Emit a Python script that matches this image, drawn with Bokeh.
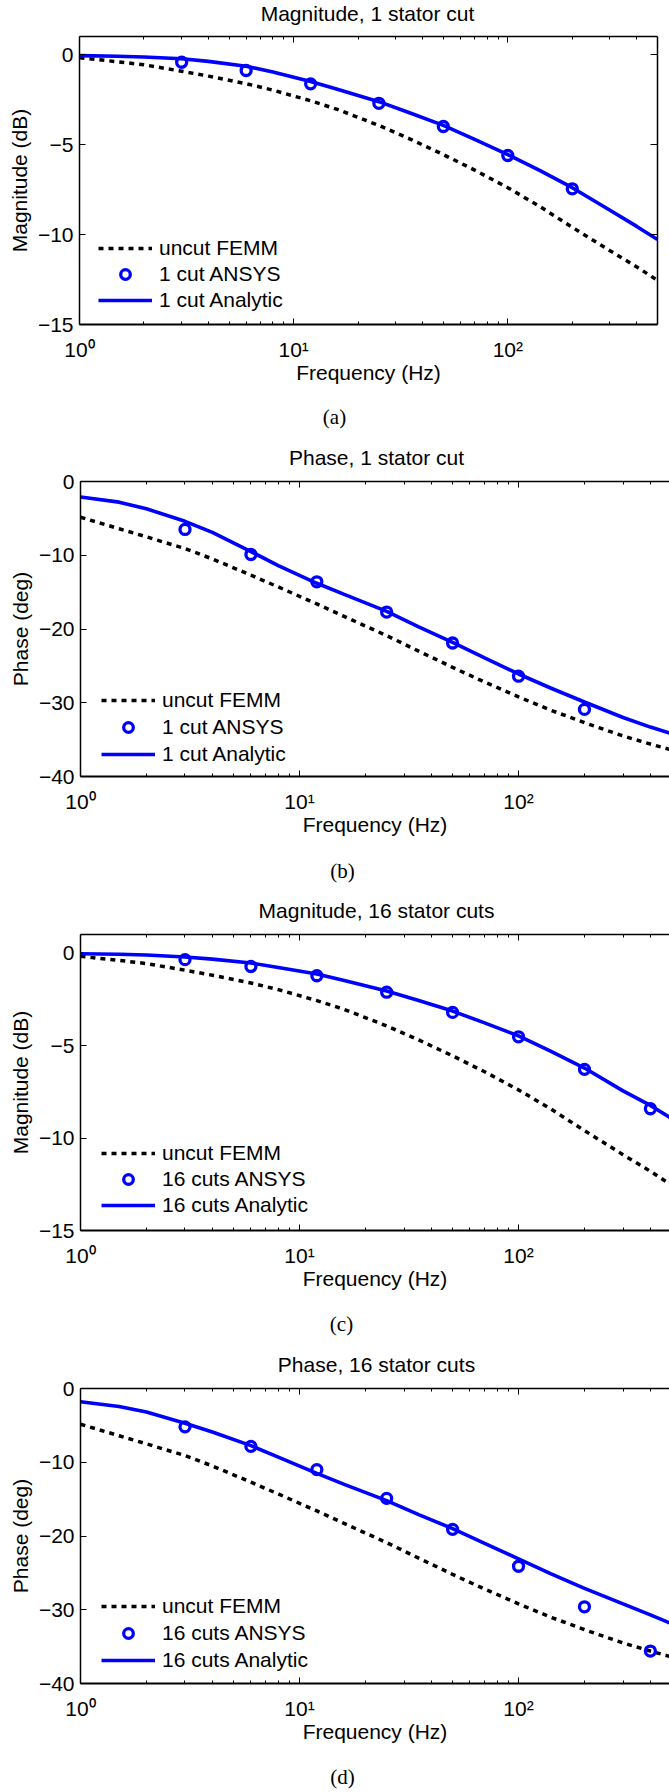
from bokeh.plotting import figure
from bokeh.models import Range1d, FixedTicker, LogAxis, LinearAxis, Legend, LegendItem, Label
from bokeh.layouts import column
from bokeh.embed import file_html
from bokeh.resources import INLINE

# ---------------- data ----------------
freq_line = [1, 1.5, 2, 3, 4, 6, 8, 12, 16, 25, 35, 50, 70, 100, 140, 200, 300, 400, 500]

femm_mag = [-0.18, -0.40, -0.57, -0.93, -1.2, -1.62, -1.98, -2.57, -3.05, -3.94, -4.70,
            -5.56, -6.42, -7.40, -8.42, -9.60, -10.90, -11.80, -12.55]
femm_phase = [-4.85, -6.4, -7.5, -9.1, -10.5, -12.7, -14.3, -16.6, -18.3, -20.9, -23.0,
              -25.2, -27.2, -29.2, -31.0, -32.7, -34.5, -35.6, -36.4]

analytic_mag_1cut = [-0.06, -0.10, -0.14, -0.24, -0.38, -0.65, -0.97, -1.50, -1.93, -2.62, -3.25,
                     -3.94, -4.72, -5.56, -6.42, -7.40, -8.65, -9.55, -10.28]
analytic_phase_1cut = [-2.1, -2.8, -3.7, -5.4, -6.9, -9.5, -11.4, -13.8, -15.3, -17.6, -19.7,
                       -21.8, -23.9, -26.1, -28.0, -29.9, -32.0, -33.3, -34.2]
analytic_mag_16cut = [-0.04, -0.07, -0.11, -0.22, -0.33, -0.54, -0.78, -1.13, -1.48, -2.05, -2.57,
                      -3.14, -3.78, -4.48, -5.30, -6.22, -7.45, -8.24, -8.95]
analytic_phase_16cut = [-1.8, -2.45, -3.2, -4.7, -5.9, -7.75, -9.3, -11.5, -13.0, -15.2, -17.1,
                        -19.0, -21.0, -23.1, -25.1, -27.1, -29.2, -30.7, -31.9]

ansys_freq_1cut = [3, 6, 12, 25, 50, 100, 200]
ansys_mag_1cut = [-0.43, -0.89, -1.63, -2.71, -4.0, -5.61, -7.46]
ansys_phase_1cut = [-6.5, -9.9, -13.6, -17.7, -21.9, -26.4, -30.9]

ansys_freq_16cut = [3, 6, 12, 25, 50, 100, 200, 400]
ansys_mag_16cut = [-0.36, -0.73, -1.23, -2.12, -3.21, -4.53, -6.29, -8.42]
ansys_phase_16cut = [-5.2, -7.85, -11.0, -14.9, -19.1, -24.1, -29.6, -35.6]

x_major_ticks = [1, 10, 100]
x_minor_ticks = [2, 3, 4, 5, 6, 7, 8, 9, 20, 30, 40, 50, 60, 70, 80, 90, 200, 300, 400]
x_tick_labels = {1: "10\u2070", 10: "10\u00b9", 100: "10\u00b2"}
mag_ticks = [-15, -10, -5, 0]
phase_ticks = [-40, -30, -20, -10, 0]

SANS = "Liberation Sans"
SERIF = "Liberation Serif"
FS = "21px"
W = 669


def minus(v):
    return ("\u2212" + str(abs(v))) if v < 0 else str(v)


def style_axis(ax, ticks=None):
    ax.axis_line_color = "black"
    ax.axis_line_width = 1.5
    ax.major_tick_line_color = "black"
    ax.minor_tick_line_color = "black"
    ax.major_tick_in = 6
    ax.major_tick_out = 0
    ax.minor_tick_in = 3
    ax.minor_tick_out = 0
    ax.major_label_text_font = SANS
    ax.major_label_text_color = "black"
    ax.axis_label_text_font = SANS
    ax.axis_label_text_font_size = FS
    ax.axis_label_text_font_style = "normal"
    ax.axis_label_text_color = "black"
    if ticks is None:
        ax.major_label_text_font_size = FS
    else:
        # frame-only axis: ticks but no labels
        ax.major_label_text_font_size = "2px"
        ax.major_label_standoff = 0
        ax.major_label_overrides = {v: "" for v in ticks}


def text_strip(H, x, y_center_from_top, text, font):
    """A frameless strip holding one line of text (title or caption)."""
    f = figure(width=W, height=H, x_range=Range1d(0, 1), y_range=Range1d(0, 1),
               output_backend="svg", toolbar_location=None,
               min_border_left=0, min_border_right=0, min_border_top=0, min_border_bottom=0,
               x_axis_location=None, y_axis_location=None, outline_line_color=None,
               background_fill_color="white", border_fill_color="white",
               frame_align=False)
    f.grid.visible = False
    f.add_layout(Label(x=x, y=H - y_center_from_top, x_units="screen", y_units="screen",
                       text=text, text_font=font, text_font_size=FS, text_align="center",
                       text_baseline="middle", text_color="black"))
    return f


def make_panel(H, borders, x_end, y_rng, yticks, ylabel, femm, analytic, af, av, names,
               leg_x, leg_y, row_h, right_axis):
    left, right, top, bottom = borders
    p = figure(width=W, height=H, x_axis_type="log",
               x_range=Range1d(1, x_end), y_range=Range1d(*y_rng),
               output_backend="svg", toolbar_location=None,
               min_border_left=left, min_border_right=right,
               min_border_top=top, min_border_bottom=bottom,
               outline_line_color=None, background_fill_color="white",
               border_fill_color="white", frame_align=False)
    p.grid.visible = False

    xa = p.xaxis[0]
    xa.ticker = FixedTicker(ticks=x_major_ticks, minor_ticks=x_minor_ticks)
    style_axis(xa)
    xa.axis_line_width = 2
    xa.major_label_overrides = x_tick_labels
    xa.major_label_standoff = 13
    xa.axis_label = "Frequency (Hz)"
    xa.axis_label_standoff = -3

    ya = p.yaxis[0]
    ya.ticker = FixedTicker(ticks=yticks, minor_ticks=[])
    style_axis(ya)
    ya.major_label_overrides = {v: minus(v) for v in yticks}
    ya.major_label_standoff = 6
    ya.axis_label = ylabel
    ya.axis_label_standoff = 4

    top_ax = LogAxis(ticker=FixedTicker(ticks=x_major_ticks, minor_ticks=x_minor_ticks))
    style_axis(top_ax, ticks=x_major_ticks)
    p.add_layout(top_ax, "above")
    if right_axis:
        ra = LinearAxis(ticker=FixedTicker(ticks=yticks, minor_ticks=[]))
        style_axis(ra, ticks=yticks)
        ra.major_tick_in = 7
        p.add_layout(ra, "right")

    r_femm = p.line(freq_line, femm, line_color="black", line_width=3.5, line_dash="5 5")
    r_an = p.line(freq_line, analytic, line_color="#0000ff", line_width=3.6)
    r_ans = p.scatter(af, av, marker="circle", size=10, line_color="#0000ff", line_width=3.3,
                      fill_color=None)

    legend = Legend(items=[LegendItem(label=names[0], renderers=[r_femm]),
                           LegendItem(label=names[1], renderers=[r_ans]),
                           LegendItem(label=names[2], renderers=[r_an])],
                    location=(leg_x, leg_y), border_line_color=None,
                    background_fill_alpha=0, padding=0, margin=0, spacing=0,
                    glyph_width=54, glyph_height=24, label_height=row_h,
                    label_standoff=7, label_text_font=SANS, label_text_font_size=FS,
                    label_text_color="black")
    p.add_layout(legend)
    return p


# page rows: title strip / plot / caption strip for each of the four panels
t1 = text_strip(25, 367, 12.5, "Magnitude, 1 stator cut", SANS)
p1 = make_panel(365, (79, 12, 11, 66), 500, (-15, 1), mag_ticks, "Magnitude (dB)",
                femm_mag, analytic_mag_1cut, ansys_freq_1cut, ansys_mag_1cut,
                ["uncut FEMM", "1 cut ANSYS", "1 cut Analytic"], 19, 11, 26, True)
c1 = text_strip(50, 334, 26.3, "(a)", SERIF)

t2 = text_strip(29, 376, 16.5, "Phase, 1 stator cut", SANS)
p2 = make_panel(376, (80, 0, 12, 69), 489, (-40, 0), phase_ticks, "Phase (deg)",
                femm_phase, analytic_phase_1cut, ansys_freq_1cut, ansys_phase_1cut,
                ["uncut FEMM", "1 cut ANSYS", "1 cut Analytic"], 21, 9, 27, False)
c2 = text_strip(45, 342, 25.3, "(b)", SERIF)

t3 = text_strip(32, 376, 19.5, "Magnitude, 16 stator cuts", SANS)
p3 = make_panel(376, (80, 0, 12, 68), 489, (-15, 1), mag_ticks, "Magnitude (dB)",
                femm_mag, analytic_mag_16cut, ansys_freq_16cut, ansys_mag_16cut,
                ["uncut FEMM", "16 cuts ANSYS", "16 cuts Analytic"], 21, 12, 26, False)
c3 = text_strip(42, 341, 25.3, "(c)", SERIF)

t4 = text_strip(36, 376, 23.5, "Phase, 16 stator cuts", SANS)
p4 = make_panel(374, (80, 0, 12, 67), 489, (-40, 0), phase_ticks, "Phase (deg)",
                femm_phase, analytic_phase_16cut, ansys_freq_16cut, ansys_phase_16cut,
                ["uncut FEMM", "16 cuts ANSYS", "16 cuts Analytic"], 21, 10, 27, False)
c4 = text_strip(42, 342, 26.3, "(d)", SERIF)

layout = column(t1, p1, c1, t2, p2, c2, t3, p3, c3, t4, p4, c4, spacing=0)
open("out.html", "w").write(file_html(layout, INLINE))
